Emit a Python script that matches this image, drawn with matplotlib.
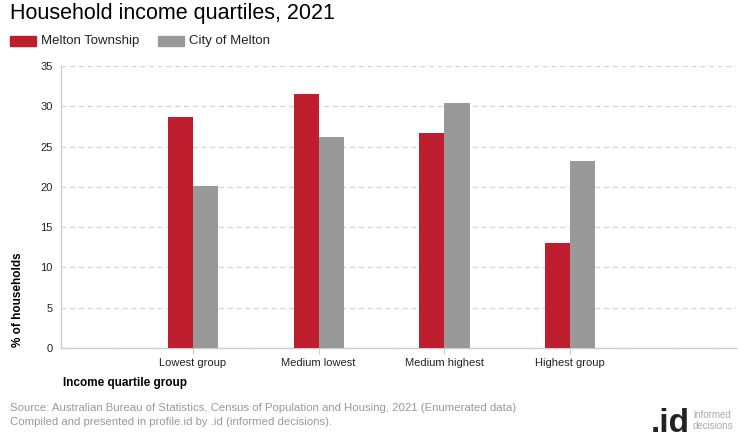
import numpy as np
import matplotlib
matplotlib.use("Agg")
import matplotlib.pyplot as plt
from matplotlib.patches import Rectangle

plt.rcParams["font.family"] = ["Liberation Sans", "DejaVu Sans"]

categories = ["Lowest group", "Medium lowest", "Medium highest", "Highest group"]
melton_township = [28.7, 31.5, 26.7, 13.0]
city_of_melton = [20.1, 26.2, 30.4, 23.2]
series_names = ["Melton Township", "City of Melton"]
colors = ["#be1e2d", "#999999"]

W, H = 740, 440
fig = plt.figure(figsize=(W / 100, H / 100), dpi=100)

# plot area in pixels: x 61..736, y 66..348
ax = fig.add_axes([61 / W, (H - 348) / H, 675 / W, 282 / H])

x = np.arange(len(categories))
bw = 0.2
ax.bar(x - bw / 2, melton_township, bw, color=colors[0], zorder=3)
ax.bar(x + bw / 2, city_of_melton, bw, color=colors[1], zorder=3)

ax.set_xlim(-1.05, 4.32)
ax.set_ylim(0, 35)
ax.set_yticks(range(0, 36, 5))
ax.set_xticks(x)
ax.set_xticklabels(categories, fontsize=8, color="#222222")
ax.tick_params(axis="y", labelsize=8, colors="#222222", length=0, pad=6)
ax.tick_params(axis="x", length=4, color="#cccccc", pad=3)
ax.yaxis.grid(True, color="#d4d4d4", linestyle=(0, (4, 3)), linewidth=0.9, zorder=0)
for s in ["top", "right"]:
    ax.spines[s].set_visible(False)
for s in ["left", "bottom"]:
    ax.spines[s].set_color("#cccccc")
    ax.spines[s].set_linewidth(1)

# titles and labels
fig.text(10 / W, 1 - 14 / H, "Household income quartiles, 2021", fontsize=15.5,
         va="center", ha="left", color="#000000")

# legend
for i, (name, xp) in enumerate(zip(series_names, [10, 158])):
    fig.patches.append(Rectangle((xp / W, 1 - 46 / H), 26 / W, 10 / H,
                                 transform=fig.transFigure, color=colors[i]))
    fig.text((xp + 31) / W, 1 - 41 / H, name, fontsize=9.5, va="center",
             ha="left", color="#222222")

fig.text(18 / W, 1 - 300 / H, "% of households", rotation=90, fontsize=8.5,
         fontweight="bold", va="center", ha="center")
fig.text(63 / W, 1 - 383 / H, "Income quartile group", fontsize=8.5,
         fontweight="bold", va="center", ha="left")

fig.text(10 / W, 1 - 408 / H,
         "Source: Australian Bureau of Statistics, Census of Population and Housing, 2021 (Enumerated data)",
         fontsize=8.2, color="#999999", va="center", ha="left")
fig.text(10 / W, 1 - 422 / H,
         "Compiled and presented in profile.id by .id (informed decisions).",
         fontsize=8.2, color="#999999", va="center", ha="left")

# logo
fig.text(690 / W, 1 - 432 / H, ".id", fontsize=24, fontweight="bold",
         color="#222222", va="baseline", ha="right")
fig.text(693 / W, 1 - 415 / H, "informed", fontsize=7, color="#aaaaaa",
         va="center", ha="left")
fig.text(693 / W, 1 - 426 / H, "decisions", fontsize=7, color="#aaaaaa",
         va="center", ha="left")

fig.savefig("out.png", dpi=100)
